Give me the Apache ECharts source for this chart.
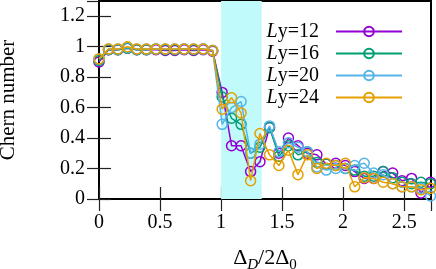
<!DOCTYPE html>
<html>
<head>
<meta charset="utf-8">
<script src="https://cdn.jsdelivr.net/npm/echarts@6/dist/echarts.min.js"></script>
<style>
html,body{margin:0;padding:0;background:#fff;}
#c{width:436px;height:269px;}
</style>
</head>
<body>
<div id="c"></div>
<script>
// x positions (Δ_D / 2Δ_0)
const xs = [0, 0.078, 0.155, 0.233, 0.310, 0.388, 0.466, 0.543, 0.621, 0.698, 0.776, 0.854, 0.931,
  1.009, 1.086, 1.164, 1.242, 1.319, 1.397, 1.474, 1.552, 1.630, 1.707, 1.785, 1.862, 1.940,
  2.018, 2.095, 2.173, 2.250, 2.328, 2.406, 2.483, 2.561, 2.638, 2.716];
const seriesNames = ['Ly=12', 'Ly=16', 'Ly=20', 'Ly=24'];
const ly12 = [0.90, 0.98, 0.98, 0.99, 0.98, 0.98, 0.98, 0.975, 0.975, 0.98, 0.975, 0.98, 0.97,
  0.70, 0.35, 0.35, 0.18, 0.245, 0.47, 0.30, 0.40, 0.35, 0.30, 0.29, 0.23, 0.235, 0.22,
  0.18, 0.135, 0.135, 0.18, 0.17, 0.12, 0.135, 0.04, 0.11];
const ly16 = [0.91, 0.98, 0.98, 0.99, 0.98, 0.98, 0.985, 0.98, 0.98, 0.985, 0.98, 0.985, 0.975,
  0.67, 0.53, 0.49, 0.30, 0.34, 0.47, 0.28, 0.35, 0.29, 0.31, 0.24, 0.23, 0.22, 0.20,
  0.19, 0.15, 0.15, 0.18, 0.14, 0.11, 0.10, 0.11, 0.10];
const ly20 = [0.92, 0.985, 0.985, 0.995, 0.985, 0.985, 0.985, 0.985, 0.985, 0.985, 0.985, 0.985, 0.975,
  0.49, 0.60, 0.64, 0.30, 0.36, 0.48, 0.31, 0.37, 0.34, 0.31, 0.21, 0.19, 0.20, 0.20,
  0.22, 0.235, 0.17, 0.16, 0.10, 0.08, 0.08, 0.07, 0.02];
const ly24 = [0.92, 0.985, 0.985, 1.0, 0.985, 0.985, 0.985, 0.985, 0.985, 0.985, 0.985, 0.985, 0.975,
  0.59, 0.665, 0.565, 0.12, 0.43, 0.29, 0.22, 0.32, 0.16, 0.29, 0.20, 0.235, 0.22, 0.235,
  0.08, 0.14, 0.135, 0.11, 0.10, 0.08, 0.08, 0.06, 0.07];
const colors = ['#9400d3', '#009e73', '#56b4e9', '#e69f00'];
const band = [1.0, 1.333];
const xTicks = [0, 0.5, 1, 1.5, 2, 2.5];
const yTicks = [0, 0.2, 0.4, 0.6, 0.8, 1, 1.2];

const FONT = 'Liberation Serif';
const allY = [ly12, ly16, ly20, ly24];

const chart = echarts.init(document.getElementById('c'), null, {renderer: 'canvas'});

const tickStyle = {show: true, inside: true, length: 12, lineStyle: {color: '#222', width: 1.2}};
const xBase = {type: 'value', min: 0, max: 2.72, interval: 0.5, splitLine: {show: false}, axisLine: {show: false}};
const yBase = {type: 'value', min: 0, max: 1.3, interval: 0.2, splitLine: {show: false}, axisLine: {show: false}};

const series = [{
  name: 'band', type: 'line', data: [], z: 1, silent: true,
  markArea: {silent: true, itemStyle: {color: '#c0fafa'}, data: [[{xAxis: band[0]}, {xAxis: band[1]}]]}
}];
seriesNames.forEach((n, i) => {
  series.push({
    name: n, type: 'line', z: 2 + i,
    data: xs.map((x, j) => [x, allY[i][j]]),
    symbol: 'circle', symbolSize: 10,
    lineStyle: {color: colors[i], width: 1.5},
    itemStyle: {color: 'rgba(0,0,0,0)', borderColor: colors[i], borderWidth: 1.5},
    emphasis: {disabled: true},
    animation: false
  });
});

chart.setOption({
  animation: false,
  backgroundColor: '#fff',
  grid: {left: 99, right: 5, top: 1, bottom: 70, show: true, borderColor: '#000', borderWidth: 2,
    backgroundColor: 'transparent', containLabel: false, outerBoundsMode: 'none'},
  legend: {
    data: seriesNames, orient: 'vertical', align: 'right', right: 28, top: 16,
    itemWidth: 66, itemHeight: 12, itemGap: 1, selectedMode: false,
    formatter: n => '{i|L}' + n.slice(1),
    textStyle: {fontFamily: FONT, fontSize: 20, color: '#000', lineHeight: 21, padding: [0, 12, 0, 0],
      rich: {i: {fontFamily: FONT, fontSize: 20, fontStyle: 'italic', color: '#000'}}}
  },
  xAxis: [
    Object.assign({}, xBase, {position: 'bottom', axisTick: tickStyle,
      axisLabel: {show: true, fontFamily: FONT, fontSize: 20, color: '#000', margin: 14, showMaxLabel: false},
      name: '{d|Δ}{s|D}{d|/2Δ}{t|0}', nameLocation: 'middle', nameGap: 44,
      nameTextStyle: {rich: {
        d: {fontFamily: FONT, fontSize: 22, color: '#000', lineHeight: 30, verticalAlign: 'middle'},
        s: {fontFamily: FONT, fontSize: 15, fontStyle: 'italic', color: '#000', lineHeight: 12, verticalAlign: 'bottom'},
        t: {fontFamily: FONT, fontSize: 15, color: '#000', lineHeight: 12, verticalAlign: 'bottom'}
      }}}),
    Object.assign({}, xBase, {position: 'top', axisTick: tickStyle, axisLabel: {show: false}})
  ],
  yAxis: [
    Object.assign({}, yBase, {position: 'left', axisTick: tickStyle,
      axisLabel: {show: true, fontFamily: FONT, fontSize: 20, color: '#000', margin: 14, showMaxLabel: false},
      name: 'Chern number', nameLocation: 'middle', nameGap: 80,
      nameTextStyle: {fontFamily: FONT, fontSize: 21, color: '#000'}}),
    Object.assign({}, yBase, {position: 'right', axisTick: tickStyle, axisLabel: {show: false}})
  ],
  series: series
});
</script>
</body>
</html>
